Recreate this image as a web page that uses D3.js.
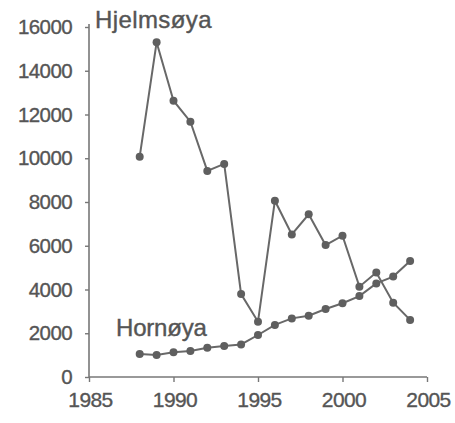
<!DOCTYPE html>
<html>
<head>
<meta charset="utf-8">
<script src="https://cdn.jsdelivr.net/npm/d3@7/dist/d3.min.js"></script>
<style>
  html, body { margin: 0; padding: 0; background: #ffffff; }
  svg { display: block; }
  text { font-family: "Liberation Sans", Arial, Helvetica, sans-serif; fill: #555555; }
</style>
</head>
<body>
<svg id="chart" width="455" height="423"></svg>
<script>
const years = [1988,1989,1990,1991,1992,1993,1994,1995,1996,1997,1998,1999,2000,2001,2002,2003,2004];
const hjelmsoya = [10070,15300,12630,11670,9420,9740,3790,2530,8060,6520,7440,6030,6460,4130,4780,3400,2610];
const hornoya = [1050,1010,1130,1190,1340,1420,1490,1920,2380,2680,2800,3110,3370,3700,4280,4590,5300];
const xTicks = [1985,1990,1995,2000,2005];
const yTicks = [0,2000,4000,6000,8000,10000,12000,14000,16000];
const seriesNames = ["Hjelmsøya","Hornøya"];

const svg = d3.select("#chart");
const x = d3.scaleLinear().domain([1985,2005]).range([89,427]);
const y = d3.scaleLinear().domain([0,16000]).range([377,27]);
const axisColor = "#777777";
const lineColor = "#686868";

// y axis
const yAxis = svg.append("g").attr("transform","translate(89,0)")
  .call(d3.axisLeft(y).tickValues(yTicks).tickSize(4).tickPadding(13).tickFormat(d3.format("d")));
yAxis.select(".domain").attr("stroke",axisColor).attr("stroke-width",1.6).attr("d","M0,24V377");
yAxis.selectAll(".tick line").attr("stroke",axisColor).attr("stroke-width",1.4);
yAxis.selectAll(".tick text").attr("font-size","20.5px").attr("fill","#555").attr("letter-spacing","-0.6px")
  .attr("stroke","#555").attr("stroke-width",0.35)
  .style("font-family","'Liberation Sans', Arial, sans-serif");

// x axis
const xAxis = svg.append("g").attr("transform","translate(0,377)")
  .call(d3.axisBottom(x).tickValues(xTicks).tickSize(5).tickPadding(10).tickFormat(d3.format("d")));
xAxis.select(".domain").attr("stroke",axisColor).attr("stroke-width",1.6).attr("d","M89,0H427");
xAxis.selectAll(".tick line").attr("stroke",axisColor).attr("stroke-width",1.4);
xAxis.selectAll(".tick text").attr("font-size","21px").attr("fill","#555").attr("letter-spacing","-0.6px")
  .attr("stroke","#555").attr("stroke-width",0.35)
  .attr("dx","1")
  .style("font-family","'Liberation Sans', Arial, sans-serif");

const line = d3.line().x((d,i)=>x(years[i])).y(d=>y(d));
[hjelmsoya, hornoya].forEach(vals => {
  svg.append("path").datum(vals).attr("d",line).attr("fill","none")
    .attr("stroke",lineColor).attr("stroke-width",2);
  svg.append("g").selectAll("circle").data(vals).join("circle")
    .attr("cx",(d,i)=>x(years[i])).attr("cy",d=>y(d)).attr("r",4)
    .attr("fill","#5f5f5f");
});

// series labels
svg.append("text").attr("x",95).attr("y",28).attr("font-size","24px").attr("letter-spacing","0.4px")
  .attr("fill","#555").attr("stroke","#555").attr("stroke-width",0.4).text(seriesNames[0]);
svg.append("text").attr("x",116).attr("y",336).attr("font-size","24px").attr("letter-spacing","-0.2px")
  .attr("fill","#555").attr("stroke","#555").attr("stroke-width",0.4).text(seriesNames[1]);
</script>
</body>
</html>
